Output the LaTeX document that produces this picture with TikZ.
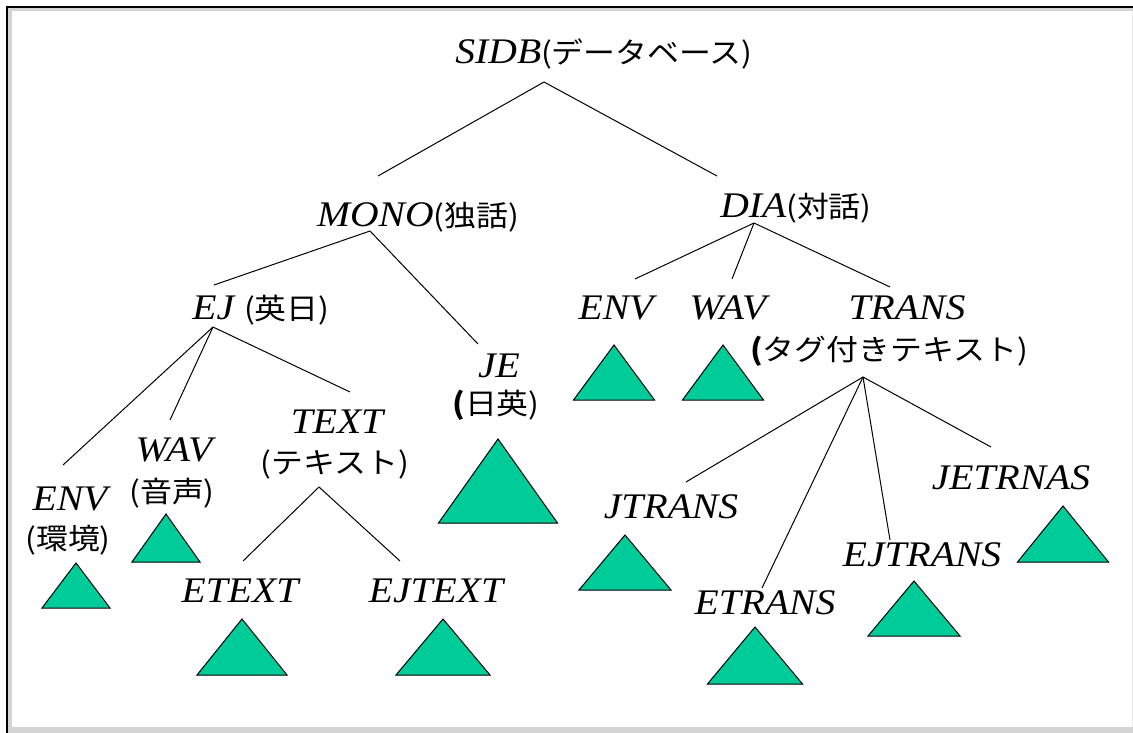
\documentclass[tikz,border=0pt]{standalone}
\usepackage{fontspec}
\setmainfont{Liberation Serif}[FakeStretch=1.1]
\newfontfamily\jp{Noto Sans CJK JP}[FakeStretch=1.1]
\newcommand\jpt[1]{{\jp\fontsize{29}{32}\selectfont #1}}
\definecolor{leaf}{RGB}{0,204,153}
\definecolor{frameband}{RGB}{212,212,212}
\definecolor{frameedge}{RGB}{232,232,232}
\tikzset{
  lat/.style={font=\fontsize{36}{40}\selectfont\itshape, inner sep=0pt, anchor=base},
  jap/.style={font=\jp\fontsize{29}{32}\selectfont, inner sep=0pt, anchor=center},
  edge/.style={draw=black, line width=1pt},
  leafbox/.style={fill=leaf, draw=black, line width=1pt, line join=miter},
  pics/leaf/.style n args={2}{code={
    \filldraw[leafbox] (0,0) -- (-#1/2,#2) -- (#1/2,#2) -- cycle;}},
}
\begin{document}
\begin{tikzpicture}[x=1pt,y=-1pt]
\useasboundingbox (0,0) rectangle (1133,733);
% window frame
\fill[white] (0,0) rectangle (1133,733);
\fill[frameband] (8,8) rectangle (12,733);
\fill[frameband] (8,8.5) rectangle (1133,11.5);
\fill[frameband] (8,727) rectangle (1133,733);
\fill[frameedge] (1131.5,11) rectangle (1133,727);
\draw[line width=2pt] (7,733) -- (7,7) -- (1133,7);

% ---- labels ----
\node[lat] (sidb) at (604,64) {SIDB\jpt{(データベース)}};
\node[lat] (mono) at (418,226) {MONO\jpt{(独話)}};
\node[lat] (dia)  at (796,218) {DIA\jpt{(対話)}};

\node[lat] (ej) at (261,319) {EJ \jpt{(英日)}};
\node[lat] (je) at (499,377) {JE};
\node[jap] (je-j) at (496,405) {{\bfseries(}日英)};

\node[lat] (env1) at (70,510) {ENV};
\node[jap] (env1-j) at (68,540) {(環境)};
\node[lat] (wav1) at (174,461) {WAV};
\node[jap] (wav1-j) at (172,493) {(音声)};
\node[lat] (text) at (337,433) {TEXT};
\node[jap] (text-j) at (335,464) {(テキスト)};
\node[lat] (etext) at (240,602) {ETEXT};
\node[lat] (ejtext) at (436,602) {EJTEXT};

\node[lat] (env2) at (616,319) {ENV};
\node[lat] (wav2) at (728,319) {WAV};
\node[lat] (trans) at (907,319) {TRANS};
\node[jap] (trans-j) at (889,351) {{\bfseries(}タグ付きテキスト)};
\node[lat] (jtrans) at (671,518) {JTRANS};
\node[lat] (etrans) at (765,614) {ETRANS};
\node[lat] (ejtrans) at (922,566) {EJTRANS};
\node[lat] (jetrnas) at (1011,489) {JETRNAS};

% ---- branch points ----
\coordinate (sidb-j) at (544,82);
\coordinate (mono-t) at (378,176);
\coordinate (dia-t)  at (717,176);
\coordinate (mono-j) at (370,231);
\coordinate (ej-t)   at (214,285);
\coordinate (je-t)   at (478,344);
\coordinate (ej-j)   at (213,327);
\coordinate (env1-t) at (63,465);
\coordinate (wav1-t) at (170,420);
\coordinate (text-t) at (350,392);
\coordinate (text-b) at (319,487);
\coordinate (etext-t) at (243,561);
\coordinate (ejtext-t) at (400,561);
\coordinate (dia-j)  at (754,223);
\coordinate (env2-t) at (635,279);
\coordinate (wav2-t) at (732,279);
\coordinate (trans-t) at (890,287);
\coordinate (trans-b) at (863,377);
\coordinate (jtrans-t) at (686,482);
\coordinate (etrans-t) at (762,588);
\coordinate (ejtrans-t) at (890,540);
\coordinate (jetrnas-t) at (991,447);

% ---- connectors ----
\draw[edge] (sidb-j) -- (mono-t);
\draw[edge] (sidb-j) -- (dia-t);
\draw[edge] (mono-j) -- (ej-t);
\draw[edge] (mono-j) -- (je-t);
\draw[edge] (ej-j) -- (env1-t);
\draw[edge] (ej-j) -- (wav1-t);
\draw[edge] (ej-j) -- (text-t);
\draw[edge] (text-b) -- (etext-t);
\draw[edge] (text-b) -- (ejtext-t);
\draw[edge] (dia-j) -- (env2-t);
\draw[edge] (dia-j) -- (wav2-t);
\draw[edge] (dia-j) -- (trans-t);
\draw[edge] (trans-b) -- (jtrans-t);
\draw[edge] (trans-b) -- (etrans-t);
\draw[edge] (trans-b) -- (ejtrans-t);
\draw[edge] (trans-b) -- (jetrnas-t);

% ---- leaf triangles ----
\pic at (498,439) {leaf={119}{84}};
\pic at (76,563) {leaf={68}{45}};
\pic at (166,514) {leaf={68}{48}};
\pic at (242,619) {leaf={90}{56}};
\pic at (443,619) {leaf={94}{56}};
\pic at (614,345) {leaf={81}{55}};
\pic at (723,345) {leaf={81}{55}};
\pic at (625,535) {leaf={92}{55}};
\pic at (755,627) {leaf={95}{57}};
\pic at (914,581) {leaf={92}{55}};
\pic at (1063,506) {leaf={91}{56}};
\end{tikzpicture}
\end{document}
